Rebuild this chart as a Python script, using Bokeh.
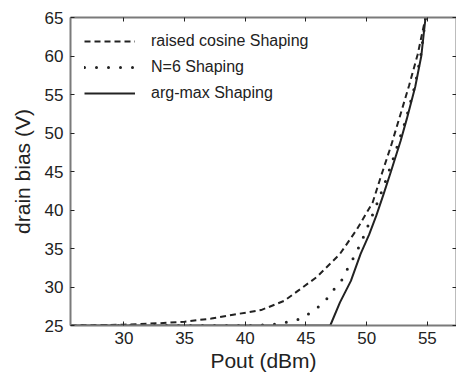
from bokeh.plotting import figure
from bokeh.models import Range1d, LinearAxis, FixedTicker, Legend, LegendItem
from bokeh.embed import file_html
from bokeh.resources import INLINE

# Data
cos_x = [25.6, 30.0, 33.0, 35.0, 37.2, 39.0, 41.3, 43.2, 45.9, 47.8, 49.2, 50.5, 51.1, 52.0, 52.8, 53.5, 54.2, 54.85]
cos_y = [25.0, 25.1, 25.3, 25.5, 25.9, 26.4, 27.0, 28.2, 31.3, 34.3, 37.5, 41.0, 44.0, 48.3, 52.5, 56.2, 60.2, 65.0]

n6_x = [25.6, 35.0, 40.0, 41.4, 42.6, 43.7, 44.6, 45.5, 46.5, 47.2, 48.0, 48.5, 49.1, 49.6, 50.1, 50.7, 51.5, 52.3, 53.2, 54.0, 54.5, 54.85]
n6_y = [25.0, 25.0, 25.0, 25.05, 25.2, 25.5, 25.9, 26.8, 28.0, 29.5, 31.0, 32.6, 34.3, 36.0, 37.9, 40.2, 43.5, 47.2, 51.6, 56.3, 60.5, 65.0]

am_x = [25.6, 47.0, 47.8, 48.7, 49.5, 50.2, 50.8, 51.4, 52.0, 52.8, 53.3, 54.0, 54.5, 54.85]
am_y = [25.0, 25.0, 28.0, 30.8, 34.3, 36.8, 39.3, 42.1, 45.0, 49.0, 51.8, 56.0, 60.0, 65.0]

labels = ["raised cosine Shaping", "N=6 Shaping", "arg-max Shaping"]
x_ticks = [30, 35, 40, 45, 50, 55]
y_ticks = [25, 30, 35, 40, 45, 50, 55, 60, 65]

FONT = "Liberation Sans"
TXT = "#222222"
AX = "#7a7a7a"

p = figure(width=456, height=379, output_backend="svg", toolbar_location=None,
           x_range=Range1d(25.6, 57.4), y_range=Range1d(25, 65),
           min_border_left=70, min_border_top=17, min_border_bottom=54, min_border_right=0,
           x_axis_label="Pout (dBm)", y_axis_label="drain bias (V)")
p.outline_line_color = None
p.grid.visible = False
p.background_fill_color = "white"
p.border_fill_color = "white"

for ax in (p.xaxis[0], p.yaxis[0]):
    ax.axis_line_color = AX
    ax.axis_line_width = 2
    ax.major_tick_in = 4
    ax.major_tick_out = 0
    ax.minor_tick_in = 0
    ax.minor_tick_out = 0
    ax.major_tick_line_color = TXT
    ax.major_label_text_font = FONT
    ax.major_label_text_font_size = "17px"
    ax.major_label_text_color = TXT
    ax.axis_label_text_font = FONT
    ax.axis_label_text_font_size = "21px"
    ax.axis_label_text_font_style = "normal"
    ax.axis_label_text_color = TXT

p.xaxis[0].ticker = FixedTicker(ticks=x_ticks)
p.yaxis[0].ticker = FixedTicker(ticks=y_ticks)
p.xaxis[0].major_label_standoff = 6
p.xaxis[0].axis_label_standoff = 2
p.yaxis[0].major_label_standoff = 7
p.yaxis[0].axis_label_standoff = 8

top = LinearAxis(ticker=FixedTicker(ticks=x_ticks), axis_line_color=AX, axis_line_width=2,
                 major_tick_in=4, major_tick_out=0, minor_tick_in=0, minor_tick_out=0,
                 major_tick_line_color=TXT, major_label_standoff=0,
                 major_label_overrides={t: "" for t in x_ticks})
p.add_layout(top, "above")
right = LinearAxis(ticker=FixedTicker(ticks=y_ticks), axis_line_color=AX, axis_line_width=2,
                   major_tick_in=4, major_tick_out=0, minor_tick_in=0, minor_tick_out=0,
                   major_tick_line_color=TXT, major_label_standoff=0,
                   major_label_overrides={t: "" for t in y_ticks})
p.add_layout(right, "right")

r1 = p.line(cos_x, cos_y, line_color=TXT, line_width=2, line_dash="6 4")
r2 = p.line(n6_x, n6_y, line_color=TXT, line_width=3, line_dash="0 12", line_cap="round")
r3 = p.line(am_x, am_y, line_color=TXT, line_width=2)

legend = Legend(items=[LegendItem(label=labels[0], renderers=[r1]),
                       LegendItem(label=labels[1], renderers=[r2]),
                       LegendItem(label=labels[2], renderers=[r3])],
                location="top_left", margin=14, padding=11, spacing=6,
                glyph_width=51, glyph_height=20, label_standoff=16,
                label_text_font=FONT, label_text_font_size="16px", label_text_color=TXT,
                background_fill_alpha=0, border_line_color=None)
p.add_layout(legend, "center")

open("out.html", "w").write(file_html(p, INLINE))
